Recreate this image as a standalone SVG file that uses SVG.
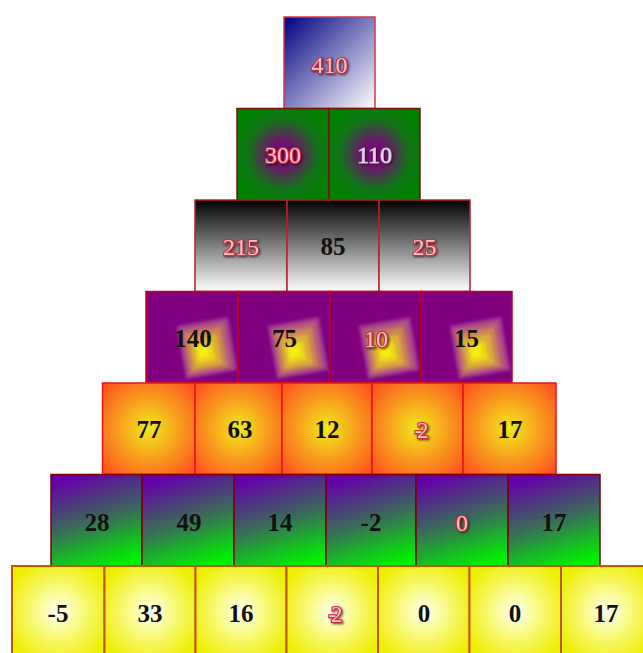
<svg xmlns="http://www.w3.org/2000/svg" width="643" height="653" viewBox="0 0 643 653">
<style>
.b{font-family:"Liberation Serif",serif;font-weight:bold;font-size:25px;fill:#111;text-anchor:middle}
.e{font-family:"Liberation Serif",serif;font-size:24px;fill:#f6c4cc;stroke:#d42a3c;stroke-width:2.2;paint-order:stroke;text-anchor:middle;filter:url(#sh)}
.l{font-family:"Liberation Serif",serif;font-size:24px;fill:#e2d2ea;stroke:#b8a0c8;stroke-width:1;paint-order:stroke;text-anchor:middle;filter:url(#sh)}
.m{font-size:23px;letter-spacing:-5px}
.r0{fill:url(#g0);stroke:#d03848;stroke-width:1.5}
.r1{fill:url(#g1);stroke:#7a1010;stroke-width:1.5}
.r2{fill:url(#g2);stroke:#b82030;stroke-width:1.5}
.r3{fill:#800080;stroke:#c80010;stroke-width:1.5}
.r4{fill:url(#g4);stroke:#e01818;stroke-width:1.5}
.r5{fill:url(#g5);stroke:#800000;stroke-width:1.5}
.r6{fill:url(#g6);stroke:#c05a00;stroke-width:2}
</style>
<defs>
<filter id="sh" x="-20%" y="-20%" width="150%" height="150%"><feDropShadow dx="1.2" dy="1.2" stdDeviation="0.8" flood-color="#300" flood-opacity="0.7"/></filter>
<filter id="bl" x="-30%" y="-30%" width="160%" height="160%"><feGaussianBlur stdDeviation="1.5"/></filter>
<linearGradient id="g0" x1="0" y1="0" x2="1" y2="1"><stop offset="0" stop-color="#000080"/><stop offset="1" stop-color="#ffffff"/></linearGradient>
<radialGradient id="g1" cx="0.5" cy="0.5" r="0.55"><stop offset="0" stop-color="#800080"/><stop offset="0.3" stop-color="#641c64"/><stop offset="0.7" stop-color="#127418"/><stop offset="1" stop-color="#008000"/></radialGradient>
<linearGradient id="g2" x1="0" y1="0" x2="0" y2="1"><stop offset="0" stop-color="#000000"/><stop offset="1" stop-color="#ffffff"/></linearGradient>
<radialGradient id="g4" cx="0.5" cy="0.5" r="0.7"><stop offset="0" stop-color="#f0ea1a"/><stop offset="1" stop-color="#ff4a20"/></radialGradient>
<linearGradient id="g5" x1="0.35" y1="0" x2="0.65" y2="1"><stop offset="0" stop-color="#6400a8"/><stop offset="0.5" stop-color="#3a6a5a"/><stop offset="1" stop-color="#00f000"/></linearGradient>
<radialGradient id="g6" cx="0.5" cy="0.5" r="0.6"><stop offset="0" stop-color="#fffff0"/><stop offset="0.5" stop-color="#f8f870"/><stop offset="1" stop-color="#eeee00"/></radialGradient>
<g id="dia" filter="url(#bl)">
<rect x="-26" y="-27" width="52" height="54" fill="#a23a8c" transform="rotate(-10)"/>
<rect x="-23" y="-23" width="45" height="47" fill="#b65c78" transform="rotate(-10)"/>
<rect x="-20" y="-18" width="37" height="39" fill="#cc8454" transform="rotate(-10)"/>
<rect x="-16" y="-12" width="28" height="30" fill="#dcae34" transform="rotate(-10)"/>
<rect x="-12" y="-6" width="18" height="19" fill="#ecd41c" transform="rotate(-10)"/>
<rect x="-9" y="-2" width="10" height="10" fill="#f4ee10" transform="rotate(-10)"/>
</g>
</defs>
<g id="row0">
<g id="n410"><rect class="r0" x="284" y="17" width="91" height="91.5"/><text class="e" x="329.5" y="73">410</text></g>
</g>
<g id="row1">
<g id="n300"><rect class="r1" x="237" y="108.5" width="92" height="91.5"/><text class="e" x="283" y="163">300</text></g>
<g id="n110"><rect class="r1" x="329" y="108.5" width="91" height="91.5"/><text class="l" x="374.5" y="163">110</text></g>
</g>
<g id="row2">
<g id="n215"><rect class="r2" x="195" y="200" width="92" height="91.5"/><text class="e" x="241" y="255">215</text></g>
<g id="n85"><rect class="r2" x="287" y="200" width="92" height="91.5"/><text class="b" x="333" y="255">85</text></g>
<g id="n25"><rect class="r2" x="379" y="200" width="91" height="91.5"/><text class="e" x="424.5" y="255">25</text></g>
</g>
<g id="row3">
<g id="n140"><rect class="r3" x="146" y="291.5" width="92" height="91.5"/><use href="#dia" x="207" y="348"/><text class="b" x="193" y="347">140</text></g>
<g id="n75"><rect class="r3" x="238" y="291.5" width="92" height="91.5"/><use href="#dia" x="298" y="348"/><text class="b" x="284.5" y="347">75</text></g>
<g id="n10"><rect class="r3" x="330" y="291.5" width="91" height="91.5"/><use href="#dia" x="389" y="348"/><text class="e" x="376" y="347">10</text></g>
<g id="n15"><rect class="r3" x="421" y="291.5" width="91" height="91.5"/><use href="#dia" x="480" y="348"/><text class="b" x="466.5" y="347">15</text></g>
</g>
<g id="row4">
<g id="n77"><rect class="r4" x="102.5" y="383" width="92.5" height="91.5"/><text class="b" x="149" y="438">77</text></g>
<g id="n63"><rect class="r4" x="195" y="383" width="87" height="91.5"/><text class="b" x="240" y="438">63</text></g>
<g id="n12"><rect class="r4" x="282" y="383" width="90" height="91.5"/><text class="b" x="327" y="438">12</text></g>
<g id="nm2a"><rect class="r4" x="372" y="383" width="91" height="91.5"/><text class="e m" x="419" y="438">-2</text></g>
<g id="n17a"><rect class="r4" x="463" y="383" width="93" height="91.5"/><text class="b" x="510" y="438">17</text></g>
</g>
<g id="row5">
<g id="n28"><rect class="r5" x="51" y="474.5" width="91" height="91.5"/><text class="b" x="97" y="531">28</text></g>
<g id="n49"><rect class="r5" x="142" y="474.5" width="92" height="91.5"/><text class="b" x="189" y="531">49</text></g>
<g id="n14"><rect class="r5" x="234" y="474.5" width="92" height="91.5"/><text class="b" x="280" y="531">14</text></g>
<g id="nm2b"><rect class="r5" x="326" y="474.5" width="90" height="91.5"/><text class="b" x="371" y="531">-2</text></g>
<g id="n0a"><rect class="r5" x="416" y="474.5" width="92" height="91.5"/><text class="e" x="462" y="531">0</text></g>
<g id="n17b"><rect class="r5" x="508" y="474.5" width="92" height="91.5"/><text class="b" x="554" y="531">17</text></g>
</g>
<g id="row6">
<g id="nm5"><rect class="r6" x="12" y="566" width="92.5" height="91.5"/><text class="b" x="58" y="622">-5</text></g>
<g id="n33"><rect class="r6" x="104.5" y="566" width="91" height="91.5"/><text class="b" x="150" y="622">33</text></g>
<g id="n16"><rect class="r6" x="195.5" y="566" width="91" height="91.5"/><text class="b" x="241" y="622">16</text></g>
<g id="nm2c"><rect class="r6" x="286.5" y="566" width="91.5" height="91.5"/><text class="e m" x="333" y="622">-2</text></g>
<g id="n0b"><rect class="r6" x="378" y="566" width="91.5" height="91.5"/><text class="b" x="424" y="622">0</text></g>
<g id="n0c"><rect class="r6" x="469.5" y="566" width="91.5" height="91.5"/><text class="b" x="515" y="622">0</text></g>
<g id="n17c"><rect class="r6" x="561" y="566" width="91.5" height="91.5"/><text class="b" x="606" y="622">17</text></g>
</g>
<g id="connectors"/>
</svg>
